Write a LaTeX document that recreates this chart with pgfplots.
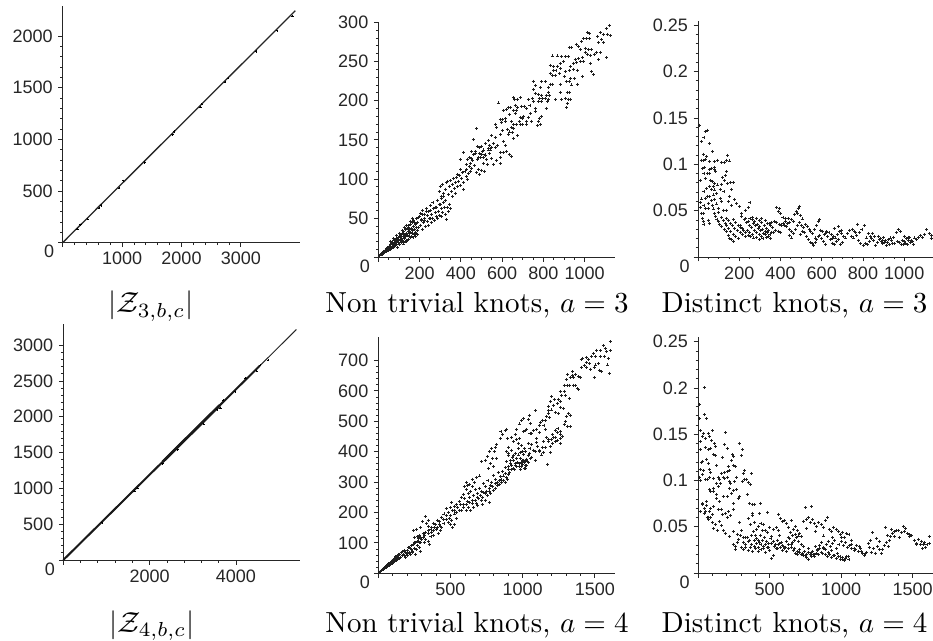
\documentclass[border=0pt]{standalone}
\usepackage{fontspec}
\usepackage{pgfplots}
\pgfplotsset{compat=1.18}
\newfontfamily\tickfont{Liberation Sans}
\definecolor{ink}{gray}{0.15}
\pgfplotsset{
  knot/.style={
    scale only axis, axis lines=left, axis line style={-, color=ink, line width=0.9pt},
    xmin=0, ymin=0, clip=false,
    tick align=outside, tick style={color=ink, line width=0.8pt},
    major tick length=4.5pt, minor tick length=2.5pt,
    minor tick num=4,
    tick label style={font=\fontsize{18}{21}\selectfont\tickfont, color=ink, /pgf/number format/assume math mode=true},
    xticklabel style={yshift=-1.5pt}, yticklabel style={xshift=-2pt},
    scaled ticks=false,
    /pgf/number format/set thousands separator={}
  },
  dots/.style={only marks, mark=+, mark size=1.5pt, mark options={line width=0.95pt, color=black!88}},
}
\newcommand{\zero}{\node[font=\fontsize{18}{21}\selectfont\tickfont, text=ink, anchor=center] at (axis cs:0,0) [xshift=-13.5pt, yshift=-9pt] {0};}
\newcommand{\capt}[3]{\pgfmathsetmacro{\capy}{640-#2}\node[anchor=base, text=black, inner sep=0pt] at (#1pt,\capy pt) {\scalebox{2.9}{\fontsize{10}{12}\selectfont #3}};}
\begin{document}
\begin{tikzpicture}
\path[use as bounding box] (0pt,0pt) rectangle (933pt,640pt);
% Panel 1
\begin{axis}[knot, at={(62.7pt,397.3pt)}, anchor=south west, width=237pt, height=236.7pt,
  xmax=3990, ymax=2290, xtick={0,1000,2000,3000}, xticklabels={,1000,2000,3000},
  ytick={0,500,1000,1500,2000}, yticklabels={,500,1000,1500,2000}]
\addplot[color=black!85, line width=1.3pt] coordinates {(0,0)(120,70)(260,150)(420,240)(600,345)(780,447)(1000,573)(1200,687)(1400,802)(1600,917)(1850,1060)(2100,1203)(2300,1318)(2500,1433)(2760,1582)(3000,1719)(3250,1862)(3500,2005)(3700,2120)(3916,2245)};
\addplot[dots, mark size=1.1pt, mark options={line width=0.6pt}] coordinates {(250,130)(300,175)(420,228)(610,335)(650,360)(950,530)(1020,600)(1380,775)(1850,1045)(1880,1075)(2320,1310)(2340,1340)(2730,1555)(2780,1590)(3260,1850)(3610,2050)(3870,2190)};
\zero
\end{axis}
\capt{151}{313}{$|\mathcal{Z}_{3,b,c}|$}
% Panel 2
\begin{axis}[knot, at={(378.3pt,382.7pt)}, anchor=south west, width=236.7pt, height=235.6pt,
  xmax=1147, ymax=300.8, xtick={0,200,400,600,800,1000}, xticklabels={,200,400,600,800,1000}, minor x tick num=3,
  ytick={0,50,100,150,200,250,300}, yticklabels={,50,100,150,200,250,300}]
\addplot[dots] coordinates {
(8,2)(12,3)(15,3)(18,4)(20,6)(24,5)(26,7)(30,8)(32,6)(35,9)(38,10)(40,8)(42,11)(45,12)(48,9)(50,13)(52,11)(55,14)(57,10)(60,16)(62,13)(64,11)(66,17)(68,14)(70,19)(72,12)(74,16)(76,21)(78,14)(80,18)(82,22)(84,15)(86,19)(88,24)(90,17)(92,21)(94,13)(96,25)(98,19)(100,23)(102,27)(104,16)(106,21)(108,26)(110,29)(112,19)(114,24)(116,31)(118,21)(120,27)(122,17)(124,33)(126,24)(128,29)(130,20)(132,35)(134,26)(136,31)(138,22)(140,37)(142,28)(144,33)(146,23)(148,40)(150,30)(152,35)(154,25)(156,42)(158,32)(160,37)(162,27)(164,44)(166,34)(168,25)(170,39)(172,47)(174,29)(176,36)(178,32)(180,42)(182,27)(184,49)(186,38)(188,34)(190,45)(192,29)
(200,52)(204,41)(208,47)(212,36)(216,55)(220,44)(224,50)(228,39)(232,58)(236,46)(240,53)(244,41)(248,49)(252,60)(256,44)(260,55)(264,50)(268,62)(272,47)(276,57)(280,52)(284,64)(288,49)(292,59)(296,54)(300,67)(304,52)(308,62)(312,57)(316,70)(320,64)(324,55)(330,48)(336,64)(345,68)
(295,84)(300,90)(305,78)(310,93)(318,82)(325,87)(330,95)(335,97)(340,80)(345,91)(350,98)(355,84)(360,93)(365,100)(370,88)(375,96)(380,102)(385,90)(390,97)(395,105)(400,92)(405,100)(410,108)(412,86)(415,95)(420,110)(425,103)(428,112)(432,99)(436,107)(440,116)(445,110)
(396,125)(415,134)(425,118)(432,125)(440,127)(445,120)(450,113)(455,124)(460,150)(462,131)(465,117)(470,135)(475,108)(478,164)(480,141)(482,125)(485,112)(488,133)(490,106)(495,128)(498,142)(502,111)(505,135)(510,120)(515,110)(520,130)(525,125)(530,118)(535,139)
(1120,296)(1104,292)(1123,283)(1110,285)(1091,285)(1075,287)(1063,282)(1083,278)(1067,274)(1091,274)(1107,255)(1013,287)(1023,286)(1010,279)(1023,279)(994,279)(986,275)(958,272)(937,268)(926,268)(970,269)(978,265)(1002,267)(1018,265)(1034,265)(1055,262)(1075,262)(1002,262)(1013,259)(1030,258)(1046,259)(1067,252)(1026,248)(1042,233)(1033,237)(989,255)(970,254)(954,253)(994,250)(978,250)(962,249)(946,248)(921,256)(905,256)(889,256)(868,257)(844,257)(897,250)(881,247)(832,245)(848,243)(868,244)(884,241)(929,243)(946,240)(965,239)(905,237)(848,239)(861,238)(877,235)(832,235)(844,232)(860,232)(900,231)(926,239)(932,228)(949,228)(989,231)(910,224)(926,225)(881,221)(937,220)(965,221)(750,225)(792,224)(808,224)(832,221)(844,221)(763,219)(787,217)(827,217)(752,214)(760,209)(776,208)(824,211)(881,211)(916,211)(926,211)(792,207)(813,206)(829,206)(779,203)(795,203)(808,203)(824,202)(776,199)(792,199)(819,199)(860,201)(889,201)(905,203)(921,202)(929,202)(916,196)(913,191)(813,190)(655,204)(659,201)(687,204)(676,202)(727,201)(747,203)(752,199)(582,197)(642,191)(630,191)(619,189)(606,187)(663,194)(674,191)(695,193)(706,193)(735,194)(719,190)(655,188)(671,188)(760,190)(760,186)(739,184)(663,183)(635,182)(727,179)(703,180)(687,179)(698,177)(590,176)(603,176)(614,177)(614,173)(598,172)(684,173)(647,173)(743,174)(789,180)(781,177)(776,173)(771,168)(787,170)(719,173)(716,169)(700,169)(687,169)(655,169)(569,170)(574,166)(601,162)(625,163)(647,166)(655,165)(671,169)(638,160)(650,159)(593,157)(550,155)(566,153)(630,157)(676,155)(655,152)(533,149)(520,145)(541,143)(558,145)(577,143)(606,148)(617,143)(550,140)(566,140)(490,140)(509,137)(545,137)(533,137)(453,135)(469,133)(593,134)(606,134)(622,135)(638,131)(647,129)(517,131)(538,133)(485,128)(501,131)(453,126)(593,128)(550,126)(509,128)(590,120)(575,124)(560,118)
(115,34)(125,38)(135,41)(145,38)(155,46)(165,50)(175,44)(185,43)(195,51)(205,56)(215,60)(225,47)(235,62)(245,58)(255,66)(265,70)(275,64)(285,73)(295,68)(305,75)(315,78)(325,72)(340,58)(350,62)(360,78)(372,82)(385,106)(400,112)(60,20)(75,24)(90,28)(105,31)(120,19)(135,20)(150,27)(165,30)(180,30)(195,38)(210,48)(225,55)(240,46)(255,50)
};
\zero
\end{axis}
\capt{477}{313}{Non trivial knots, $a=3$}
% Panel 3
\begin{axis}[knot, at={(698pt,383pt)}, anchor=south west, width=234.7pt, height=235.7pt,
  xmax=1138, ymax=0.2543, xtick={0,200,400,600,800,1000}, xticklabels={,200,400,600,800,1000}, minor x tick num=3,
  ytick={0,0.05,0.1,0.15,0.2,0.25}, yticklabels={,0.05,0.1,0.15,0.2,0.25}]
\addplot[dots] coordinates {
(5,.1424)(34,.1352)(47,.137)(29,.1287)(15,.1244)(55,.1226)(70,.114)(26,.111)(42,.108)(15,.1046)(26,.104)(37,.1054)(55,.103)(78,.103)(94,.1046)(115,.102)(128,.102)(144,.110)(139,.1046)(152,.1036)(21,.0957)(31,.0964)(55,.0946)(66,.0957)(78,.097)(82,.0946)(45,.0903)(29,.0903)(58,.0903)(87,.092)(139,.092)(131,.088)(120,.086)(34,.0849)(10,.083)(61,.0823)(71,.081)(128,.083)(82,.0795)(142,.0795)(158,.08)(171,.0805)(58,.0766)(74,.0766)(94,.0777)(115,.0787)(42,.0734)(66,.073)(29,.0712)(82,.0723)(107,.073)(163,.073)(45,.0658)(18,.0626)(37,.0633)(58,.065)(74,.0669)(90,.0687)(126,.0705)(152,.0658)(179,.0622)(10,.0586)(29,.056)(50,.0579)(66,.0608)(82,.0622)(107,.0633)(147,.0597)(187,.0579)(10,.0536)(34,.0525)(53,.0525)(71,.056)(90,.0572)(115,.0597)(163,.056)(74,.0518)(98,.0525)(200,.0543)(82,.047)(98,.0478)(123,.0507)(139,.0507)(252,.0586)(212,.047)(228,.0507)(244,.0532)(26,.047)(18,.047)(21,.0417)(50,.0399)(26,.0381)(55,.0363)(29,.0356)
(87,.0435)(92,.0408)(98,.038)(106,.0352)(115,.0327)(127,.03)(139,.0273)(146,.0235)(152,.02)(160,.0185)(171,.0165)
(115,.0428)(122,.0395)(131,.0363)(139,.0335)(147,.0309)(158,.0278)(171,.0248)(183,.0222)(195,.0201)
(139,.0417)(148,.039)(158,.0363)(168,.0335)(179,.0309)(191,.0285)(204,.0262)(216,.0238)(228,.022)
(171,.04)(183,.0372)(195,.0345)(207,.0318)(220,.029)(232,.0262)(244,.0237)(256,.022)
(212,.0435)(224,.04)(236,.037)(248,.0345)(260,.032)(272,.029)(284,.0262)(296,.0243)(309,.0226)
(252,.0417)(264,.04)(276,.038)(288,.0352)(300,.0327)(312,.03)(325,.0273)(337,.026)(349,.0248)
(232,.0415)(244,.0388)(268,.0365)(280,.034)(292,.0312)(304,.0285)(316,.0258)(328,.0238)(340,.0225)
(265,.0425)(285,.042)(297,.0395)(308,.037)(320,.034)(332,.0312)(344,.0285)(356,.0265)(368,.026)
(205,.0335)(215,.031)(240,.0285)(250,.0265)(262,.024)(270,.0205)(285,.0215)(300,.019)(315,.0195)(330,.021)(350,.0195)
(310,.0415)(325,.039)(338,.0365)(350,.034)(362,.0315)(375,.029)(388,.028)(400,.0265)
(345,.036)(358,.037)(372,.0385)(382,.0375)(395,.0352)(405,.034)(415,.0365)(425,.0385)(435,.036)(445,.0375)
(380,.0535)(390,.0495)(395,.0525)(400,.0465)(412,.0425)(425,.042)(438,.0415)(452,.04)(462,.0385)(470,.0455)(480,.047)(485,.052)(476,.0495)(492,.055)(495,.045)(505,.041)
(412,.036)(420,.0345)(430,.033)(445,.03)(455,.027)(442,.0235)(452,.0205)(465,.025)(472,.03)(480,.034)(490,.037)(500,.034)(510,.0315)(520,.035)(530,.033)(540,.03)(495,.0245)(505,.028)(515,.0265)(525,.022)(535,.019)(545,.0155)(555,.0145)(560,.012)(568,.016)(575,.019)(585,.022)(545,.0275)(555,.025)(565,.0295)(575,.0335)(583,.038)(590,.04)(595,.029)(605,.028)(612,.0245)(620,.025)(630,.022)(640,.0185)(650,.015)(660,.0135)(670,.017)(680,.019)(690,.014)(700,.0155)(600,.0195)(610,.017)(625,.027)(635,.0265)(645,.024)(655,.0225)(665,.0205)(675,.0245)(685,.027)(695,.029)(705,.0225)(715,.0205)(725,.025)(735,.029)(745,.0225)(755,.0205)(765,.026)(775,.0355)(785,.0265)(795,.03)(805,.0335)(770,.023)(780,.018)(790,.0145)(800,.012)(810,.015)(820,.0135)(830,.017)(840,.0195)(850,.0175)(860,.0125)(870,.0155)(880,.0185)(890,.0165)(900,.021)(910,.0175)(920,.0155)(930,.013)(940,.0175)(950,.0215)(960,.026)(970,.0295)(980,.027)(990,.018)(1000,.0165)(1010,.0195)(1020,.018)(1030,.0155)(1040,.0165)(1050,.0205)(1060,.019)(1070,.0215)(1080,.023)(1090,.021)(1100,.024)(1110,.0295)(1120,.025)(1130,.02)(1134,.023)
(825,.025)(845,.0255)(855,.0225)(875,.0225)(895,.0145)(905,.0155)(915,.0125)(925,.0185)(935,.0205)(945,.015)(955,.0145)(965,.0165)(975,.016)(985,.0135)(995,.014)(1005,.0145)(1015,.0135)(1025,.021)(1035,.0175)(1045,.0135)
(680,.033)(660,.031)(695,.0255)(650,.02)(620,.0135)(590,.0235)(570,.0205)(750,.03)(760,.028)(815,.0205)(835,.0225)(885,.02)(895,.0175)(1000,.0225)(1020,.0215)
};
\zero
\end{axis}
\capt{794.5}{313}{Distinct knots, $a=3$}
% Panel 4
\begin{axis}[knot, at={(63.3pt,80pt)}, anchor=south west, width=236.4pt, height=236pt,
  xmax=5476, ymax=3296, xtick={0,2000,4000}, xticklabels={,2000,4000},
  ytick={0,500,1000,1500,2000,2500,3000}, yticklabels={,500,1000,1500,2000,2500,3000}]
\addplot[color=black!85, line width=1pt] coordinates {(0,0)(300,179)(800,477)(1300,775)(1800,1073)(2400,1430)(3000,1788)(3600,2146)(4000,2384)(4400,2622)(4800,2860)(5400,3220)};
\addplot[color=black!90, line width=2pt] coordinates {(0,0)(500,298)(1000,596)(1800,1073)(2400,1430)(3000,1788)(3650,2175)(4000,2384)(4550,2712)};
\addplot[color=black!90, line width=2.8pt] coordinates {(2300,1370)(3000,1788)(3620,2158)};
\addplot[dots, mark size=1.1pt, mark options={line width=0.6pt}] coordinates {(900,520)(1650,960)(1720,1000)(2300,1345)(2650,1540)(3250,1900)(3560,2100)(3640,2120)(3700,2230)(3980,2350)(4220,2540)(4480,2640)(4560,2720)(4750,2790)};
\zero
\end{axis}
\capt{152}{632}{$|\mathcal{Z}_{4,b,c}|$}
% Panel 5
\begin{axis}[knot, at={(378.3pt,66.7pt)}, anchor=south west, width=236.7pt, height=236pt,
  xmax=1640, ymax=776, xtick={0,500,1000,1500}, xticklabels={,500,1000,1500},
  ytick={0,100,200,300,400,500,600,700}, yticklabels={,100,200,300,400,500,600,700}]
\addplot[dots] coordinates {
(1606,762)(1560,748)(1571,740)(1606,732)(1583,729)(1514,734)(1541,732)(1490,723)(1479,714)(1502,714)(1537,712)(1567,714)(1594,707)(1440,710)(1416,707)(1405,703)(1456,703)(1440,693)(1463,690)(1502,685)(1525,690)(1590,685)(1410,677)(1426,682)(1444,677)(1472,671)(1495,677)(1532,668)(1548,663)(1601,657)(1495,644)(1347,663)(1310,654)(1345,652)(1363,655)(1329,644)(1352,644)(1386,646)(1398,644)(1301,636)(1310,619)(1324,619)(1352,619)(1363,616)(1379,608)(1389,603)(1287,619)(1259,597)(1287,599)(1271,586)(1294,586)(1324,575)(1202,581)(1218,570)(1248,573)(1259,564)(1195,564)(1241,557)(1213,553)(1179,550)(1282,542)(1264,546)(1086,534)(1179,535)(1202,537)(1225,528)(1248,524)(1179,526)(1317,526)(1329,520)(1301,517)(1167,515)(1183,513)(1045,520)(1040,506)(1005,509)(994,502)(978,491)(1052,493)(1155,502)(1139,504)(1125,495)(1116,487)(1148,487)(1294,498)(1310,484)(1287,490)(1329,482)(890,474)(878,469)(959,473)(1028,473)(1005,466)(1021,471)(1075,468)(1098,473)(1063,460)(1116,462)(1155,473)(850,466)(862,455)(844,444)(894,444)(924,447)(948,455)(959,440)(978,444)(1098,444)(1051,460)(1225,471)(1241,462)(1259,455)(1278,451)(1208,455)(1259,444)(1241,438)(1225,433)(1208,427)(1179,433)(1144,433)(1093,429)(936,433)(971,427)(820,422)(786,411)(809,414)(770,400)(802,400)(1040,427)(1063,422)(1102,418)(1190,416)(1259,427)(1155,414)(1075,405)(1116,400)(1144,396)(1195,396)(1132,389)(1086,400)(1051,411)(1017,400)(1005,392)(1040,386)(1056,378)(1086,370)(1174,358)(740,372)(756,383)(793,378)(820,378)(890,400)(901,386)(971,389)(982,396)(936,386)(717,367)(774,361)(936,372)(959,378)(982,378)(1005,372)(913,370)(890,367)(948,361)(978,361)(1017,367)(924,356)(901,350)(959,350)(994,350)(1028,356)(878,348)(797,350)(936,345)(763,345)
(915,362)(930,380)(945,340)(965,365)(985,340)(1000,358)(1020,345)(1035,368)(900,340)(880,328)(860,335)(845,318)(830,330)(815,310)(800,322)(785,300)(775,290)(760,305)(745,285)(730,295)(715,270)(700,280)(690,262)(675,275)(660,255)
(900,325)(885,315)(870,305)(855,298)(840,292)(825,288)(810,280)(795,272)(780,262)(770,270)(755,255)(740,262)(725,250)(770,232)(745,240)(715,240)(695,245)(680,230)(660,218)(640,205)(690,222)(720,225)(650,238)(635,250)(625,262)(610,275)(595,285)(640,270)(655,285)(665,300)(680,315)(700,320)(650,310)(635,292)(620,290)(610,300)(590,260)(575,250)(560,235)(545,225)(530,220)(510,232)(500,215)(600,245)(615,235)(625,215)(610,205)(590,225)(575,205)(560,205)(545,200)(530,195)(515,205)(500,190)(485,200)(470,212)(455,195)(440,185)(425,170)(470,178)(485,168)(500,160)(515,150)(530,160)(545,180)(455,165)(440,150)(425,160)(410,175)(395,160)(380,165)(365,145)(350,155)(335,165)(320,125)(350,130)(365,122)(385,140)(400,145)(415,130)(430,140)(380,125)(370,135)(345,175)(325,187)(307,170)(295,150)(266,145)(247,140)(285,125)(300,110)(270,105)(250,118)(285,100)(310,118)(330,110)(355,95)(345,105)(320,100)
(10,4)(15,6)(20,8)(25,10)(30,12)(35,13)(40,17)(45,16)(50,21)(55,20)(60,25)(65,23)(70,29)(75,26)(80,33)(85,28)(90,37)(95,32)(100,42)(105,35)(110,45)(115,38)(120,50)(125,42)(130,53)(135,47)(140,58)(145,48)(150,62)(155,53)(160,68)(165,57)(170,72)(175,61)(180,60)(185,70)(190,52)(195,66)(200,75)(205,58)(210,85)(215,70)(220,63)(225,80)(230,90)(235,73)(240,68)(245,95)(250,83)(255,62)(260,100)(265,78)(270,90)(275,105)(280,115)(285,85)(290,72)(295,100)
(12,5)(22,9)(32,13)(42,18)(52,22)(62,27)(72,31)(82,36)(92,40)(102,45)(112,49)(122,54)(132,57)(142,62)
(1000,370)(1010,345)(1020,355)(1030,375)(1050,395)(1060,380)(1180,440)(1165,445)(1135,415)(1120,405)(1275,450)(1260,465)(1245,475)(1230,445)(1215,445)(1200,440)(950,395)(970,410)(1000,400)(990,420)(1015,410)(900,395)(925,405)(905,415)
(850,310)(865,320)(880,300)(895,310)(840,305)(825,300)(810,295)(790,285)(770,280)(750,270)(730,265)(710,255)(690,250)(670,240)(650,228)(630,232)(610,225)(590,215)(570,225)(550,215)(530,205)(510,175)(490,180)(470,190)(450,178)(430,155)(410,150)(390,150)(370,150)(350,142)(330,135)(310,130)(290,118)(270,120)(250,100)(230,78)(215,85)(200,65)(180,75)(950,355)(975,350)(925,340)(910,330)(1040,365)(1025,375)(1010,365)(990,365)
};
\zero
\end{axis}
\capt{477}{632}{Non trivial knots, $a=4$}
% Panel 6
\begin{axis}[knot, at={(698pt,67pt)}, anchor=south west, width=234.7pt, height=235.7pt,
  xmax=1640, ymax=0.2547, xtick={0,500,1000,1500}, xticklabels={,500,1000,1500},
  ytick={0,0.05,0.1,0.15,0.2,0.25}, yticklabels={,0.05,0.1,0.15,0.2,0.25}]
\addplot[dots] coordinates {
(9,.1816)(42,.2)(60,.1665)(42,.1708)(9,.1665)(192,.1517)(102,.1535)(14,.1539)(37,.1503)(32,.148)(72,.151)(83,.148)(18,.142)(49,.1456)(95,.143)(118,.140)(287,.140)(187,.1384)(204,.1348)(125,.1366)(49,.1355)(72,.1337)(88,.1348)(14,.133)(310,.133)(125,.1269)(111,.1276)(241,.1276)(250,.1258)(171,.125)(303,.1265)(60,.123)(32,.1204)(21,.1193)(72,.1186)(234,.1215)(245,.1157)(264,.115)(130,.116)(211,.115)(18,.1114)(37,.1107)(79,.1121)(88,.1085)(164,.1078)(187,.1085)(204,.1096)(222,.1107)(326,.1107)(315,.1071)(373,.1071)(32,.106)(9,.1035)(83,.1035)(111,.1024)(141,.1035)(176,.1035)(204,.1035)(268,.1035)(55,.1006)(65,.1013)(14,.1)(148,.1013)(187,.1017)(326,.1013)(222,.0988)(338,.1013)(130,.097)(157,.0963)(227,.0963)(257,.0988)(310,.0988)(350,.0977)(366,.0952)(141,.0934)(222,.0916)(268,.0898)(83,.0905)(106,.0916)(88,.088)(111,.088)(234,.0862)(250,.0891)(343,.0844)(130,.0844)(176,.0826)(204,.0826)(292,.0826)(280,.0808)(60,.0772)(130,.0808)(148,.0772)(245,.0747)(361,.0747)(384,.0736)(396,.0736)(438,.0754)(60,.0725)(32,.0736)(88,.07)(111,.0718)(245,.0689)(14,.0664)(42,.0646)(83,.0664)(141,.0682)(164,.0689)(211,.0664)(488,.0657)(431,.064)(565,.0635)(171,.0628)(194,.064)(102,.0628)(72,.0603)(384,.0646)(750,.0707)(796,.0718)
(30,.075)(45,.07)(55,.067)(65,.06)(75,.0575)(90,.06)(100,.0545)(110,.048)(120,.0525)(135,.0455)(150,.0555)(165,.051)(178,.0455)(190,.043)(205,.06)(220,.0395)(230,.062)(245,.0445)(260,.0285)(275,.042)(290,.055)(305,.0455)(320,.0335)(335,.038)(350,.0585)(365,.0525)(380,.062)(395,.055)(410,.0475)(425,.0505)(440,.054)(455,.0525)(470,.0455)(485,.0435)(500,.0495)(515,.0395)(530,.0465)(545,.049)(560,.0455)(575,.0585)(590,.0555)(605,.0565)(620,.0535)(635,.0495)(650,.0565)(665,.0475)(680,.0505)(695,.0455)(710,.0425)(725,.039)(740,.056)(755,.058)(770,.0595)(785,.0545)(800,.0575)(815,.0535)(830,.0505)(845,.0545)(860,.052)(875,.0495)(890,.057)(905,.0605)(920,.0465)(935,.0445)(950,.0495)(965,.0475)(980,.0445)(995,.0415)(1010,.044)(1025,.0385)(1040,.0425)(1055,.042)(1070,.0355)
(245,.031)(260,.025)(275,.0335)(285,.0365)(300,.0405)(315,.038)(330,.0305)(345,.0385)(360,.0355)(375,.0405)(390,.0445)(405,.0405)(420,.0355)(435,.041)(450,.0455)(465,.0385)(480,.0345)(495,.0315)(510,.0375)(525,.0345)(540,.0305)(555,.0355)(570,.0405)(585,.0325)(600,.029)(615,.0345)(630,.0385)(645,.0435)(660,.0405)(675,.0355)(690,.0385)(705,.0345)(720,.031)(735,.0285)
(305,.028)(320,.025)(335,.028)(350,.024)(365,.028)(380,.0235)(395,.029)(410,.032)(425,.0275)(440,.0305)(455,.0265)(470,.0225)(485,.0275)(500,.0245)(515,.0155)(530,.0185)(545,.0265)(560,.0305)(575,.0275)(590,.0295)(605,.0265)(620,.0235)(635,.0305)(650,.0275)(665,.0245)(680,.0215)(695,.0195)(710,.0225)(725,.0195)(740,.0185)(755,.0165)(770,.0145)(785,.0205)(800,.0235)(815,.0175)(830,.0215)(845,.0195)(860,.0225)(875,.0265)(890,.0205)(905,.0175)(920,.0195)(935,.0165)(950,.0185)(965,.0155)(980,.0175)(995,.0145)(1010,.0165)(1025,.0135)(1040,.0175)(1055,.0145)
(745,.023)(760,.0205)(775,.026)(790,.0225)(805,.0195)(820,.0285)(835,.025)(850,.0295)(865,.0335)(880,.0275)(895,.0305)(910,.0345)(925,.0285)(940,.0315)(955,.0355)(970,.0265)(985,.0305)(1000,.0345)(1015,.0295)(1030,.0325)(1045,.0275)(1060,.0295)(1075,.031)(1090,.027)(1105,.0295)(1120,.0235)(1135,.0265)(1150,.021)(1165,.0185)(1180,.022)(1195,.0275)(1210,.0225)(1225,.0265)(1240,.0215)(1255,.0285)(1270,.0255)(1285,.0215)(1300,.0295)(1315,.0335)(1330,.0285)(1345,.039)(1360,.0425)(1375,.0395)(1390,.0455)(1405,.0385)(1420,.0435)(1435,.0505)(1450,.0485)(1465,.0425)(1480,.039)(1495,.0405)(1510,.0355)(1525,.0315)(1540,.0365)(1555,.0305)(1570,.0265)(1585,.0335)(1600,.0305)(1615,.0395)(1620,.032)
(1100,.0255)(1125,.029)(1145,.0235)(1170,.0215)(1190,.0315)(1205,.0355)(1220,.0435)(1250,.0375)(1265,.0345)(1290,.0255)(1310,.0495)(1325,.0405)(1340,.0355)(1355,.0475)(1370,.0445)(1400,.0455)(1440,.0445)(1475,.0415)(1530,.0305)(1560,.0345)(1575,.0305)(1590,.028)
(352,.034)(372,.031)(392,.035)(412,.037)(432,.033)(452,.035)(472,.031)(492,.028)(512,.032)(532,.029)(552,.026)(572,.032)(592,.024)(612,.028)(632,.026)(652,.031)(672,.027)(692,.023)(712,.025)(732,.021)(752,.019)(772,.022)(792,.018)(812,.02)(832,.024)(852,.026)(872,.021)(892,.025)(912,.022)(932,.024)(952,.019)(972,.021)(992,.018)(1012,.015)(1032,.016)(1052,.018)(1072,.026)(1092,.024)(400,.026)(420,.023)(440,.025)(460,.029)(640,.037)(660,.033)(680,.042)(700,.04)(760,.048)(820,.045)(880,.04)(940,.038)(1000,.038)
};
\zero
\end{axis}
\capt{794.5}{632}{Distinct knots, $a=4$}
\end{tikzpicture}
\end{document}
